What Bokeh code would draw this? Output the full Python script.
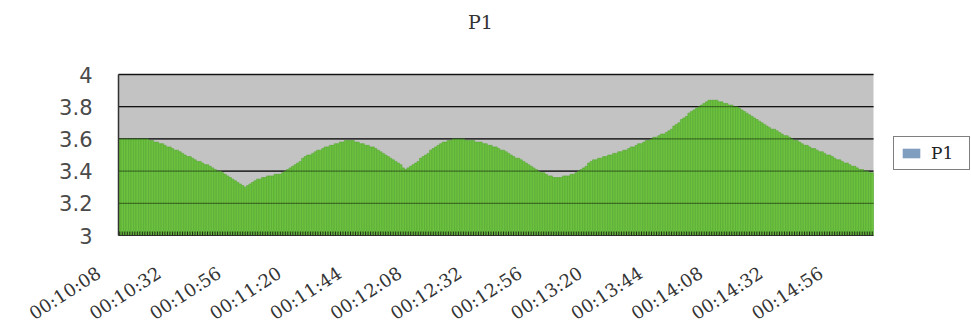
import math

from bokeh.plotting import figure
from bokeh.models import Range1d, ColumnDataSource, Legend, LegendItem, LabelSet, Label
from bokeh.core.properties import value
from bokeh.embed import file_html
from bokeh.resources import INLINE

# ---- data: one reading per second starting at 00:10:08 ----
series_name = "P1"

p1_values = [
    3.60, 3.60, 3.60, 3.60, 3.60, 3.60, 3.60, 3.60, 3.60, 3.60, 3.60, 3.60, 3.59, 3.59,
    3.58, 3.58, 3.57, 3.57, 3.56, 3.55, 3.55, 3.54, 3.53, 3.53, 3.52, 3.51,
    3.50, 3.49, 3.49, 3.48, 3.47, 3.46, 3.46, 3.45,
    3.44, 3.44, 3.43, 3.42, 3.41, 3.40, 3.40, 3.39,
    3.38, 3.37, 3.36, 3.35, 3.34, 3.33, 3.32, 3.31, 3.30,
    3.31, 3.32, 3.33, 3.34, 3.35, 3.35, 3.36,
    3.36, 3.37, 3.37, 3.37, 3.38, 3.38, 3.38, 3.39,
    3.40, 3.41, 3.42, 3.43, 3.44, 3.45, 3.46, 3.48,
    3.49, 3.50, 3.50, 3.51, 3.52, 3.53, 3.53, 3.54, 3.55, 3.55, 3.56,
    3.56, 3.57, 3.57, 3.58, 3.58, 3.59, 3.59, 3.59,
    3.59, 3.58, 3.58, 3.57, 3.57, 3.56, 3.56, 3.55, 3.55, 3.54, 3.53,
    3.52, 3.51, 3.50, 3.49, 3.48, 3.47, 3.46, 3.45, 3.44, 3.42, 3.41,
    3.42, 3.43, 3.44, 3.45, 3.46, 3.48,
    3.49, 3.50, 3.51, 3.53, 3.54, 3.55, 3.56, 3.57,
    3.58, 3.58, 3.59, 3.59, 3.60, 3.60, 3.60,
    3.60, 3.60, 3.59, 3.59, 3.59, 3.59, 3.58, 3.58, 3.58,
    3.57, 3.57, 3.56, 3.56, 3.55, 3.55, 3.54, 3.53, 3.53, 3.52, 3.51,
    3.50, 3.49, 3.48, 3.48, 3.47, 3.46, 3.45, 3.44, 3.43, 3.42,
    3.41, 3.40, 3.39, 3.39, 3.38, 3.37, 3.37, 3.36,
    3.36, 3.36, 3.36, 3.37, 3.37, 3.37, 3.38, 3.38,
    3.39, 3.40, 3.41, 3.42, 3.43, 3.45, 3.46,
    3.47, 3.47, 3.48, 3.48, 3.49, 3.49, 3.50, 3.50, 3.51, 3.51, 3.52, 3.52, 3.53, 3.53, 3.54, 3.55,
    3.55, 3.56, 3.57, 3.57, 3.58, 3.59, 3.59, 3.60, 3.61, 3.61, 3.62, 3.63, 3.63, 3.64, 3.65,
    3.66, 3.68, 3.69, 3.70, 3.72, 3.73, 3.74, 3.76,
    3.77, 3.78, 3.79, 3.80, 3.81, 3.82, 3.83, 3.84, 3.84,
    3.84, 3.84, 3.83, 3.83, 3.82, 3.82, 3.81, 3.81, 3.80, 3.80, 3.79,
    3.78, 3.77, 3.76, 3.75, 3.74, 3.73, 3.72, 3.71, 3.70, 3.69, 3.68, 3.67,
    3.66, 3.66, 3.65, 3.64, 3.63, 3.62, 3.62, 3.61, 3.60, 3.59, 3.59, 3.58, 3.57,
    3.56, 3.56, 3.55, 3.54, 3.54, 3.53, 3.52, 3.52, 3.51, 3.50, 3.50, 3.49, 3.48,
    3.47, 3.47, 3.46, 3.45, 3.45, 3.44, 3.43, 3.43, 3.42, 3.41, 3.41, 3.40,
    3.40, 3.39, 3.39,
]

# category labels shown every 24 samples
time_labels = ["00:10:08", "00:10:32", "00:10:56", "00:11:20", "00:11:44",
               "00:12:08", "00:12:32", "00:12:56", "00:13:20", "00:13:44",
               "00:14:08", "00:14:32", "00:14:56"]
label_every = 24

y_min, y_max = 3.0, 4.0
y_ticks = [3.0, 3.2, 3.4, 3.6, 3.8, 4.0]
y_tick_labels = ["3", "3.2", "3.4", "3.6", "3.8", "4"]

# ---- page geometry (pixels): plot area spans x 118..873, y 74..235 ----
W, H = 971, 327
AREA_L, AREA_R, AREA_T, AREA_B = 118, 873, 74, 235
n = len(p1_values)
px_x = (AREA_R - AREA_L) / n                 # pixels per sample
px_y = (AREA_B - AREA_T) / (y_max - y_min)   # pixels per unit


def dx(px):
    """page x pixel -> data x"""
    return -0.5 + (px - AREA_L) / px_x


def dy(py):
    """page y pixel -> data y"""
    return y_min + (AREA_B - py) / px_y


x_lo, x_hi = -0.5, n - 0.5

p = figure(width=W, height=H, output_backend="svg", toolbar_location=None,
           x_range=Range1d(dx(0), dx(W)), y_range=Range1d(dy(H), dy(0)),
           x_axis_type=None, y_axis_type=None, min_border=0,
           outline_line_color=None, background_fill_color="white",
           border_fill_color="white")
p.grid.visible = False

# plot area background
p.quad(left=[x_lo], right=[x_hi], bottom=[y_min], top=[y_max],
       fill_color="#c3c3c3", line_color=None)

# horizontal gridlines behind the bars
grid_y = y_ticks[1:]
p.segment(x0=[x_lo] * len(grid_y), x1=[x_hi] * len(grid_y), y0=grid_y, y1=grid_y,
          line_color="#1e1e1e", line_width=1.3)

# columns
src = ColumnDataSource(data=dict(x=list(range(n)), v=p1_values))
p.vbar(x="x", top="v", bottom=y_min, width=1.0, source=src,
       fill_color="#6cc23e", line_color="#58a834", line_width=0.6)

# gridlines showing through the columns
p.segment(x0=[x_lo] * len(grid_y), x1=[x_hi] * len(grid_y), y0=grid_y, y1=grid_y,
          line_color="black", line_alpha=0.4, line_width=1.2)

# axis lines
p.segment(x0=[x_lo], x1=[x_lo], y0=[y_min], y1=[y_max],
          line_color="#333333", line_width=1.5)
p.segment(x0=[x_lo], x1=[x_hi], y0=[y_min], y1=[y_min],
          line_color="#333333", line_width=1.2)

# a short inward tick at every sample
tick_len = 4 / px_y
p.segment(x0=list(range(n)), x1=list(range(n)), y0=[y_min] * n,
          y1=[y_min + tick_len] * n, line_color="#1f2a18", line_width=1)

# y tick labels
p.text(x=[x_lo] * len(y_ticks), y=y_ticks, text=y_tick_labels,
       x_offset=-26, text_align="right", text_baseline="middle",
       text_font=value("DejaVu Sans"), text_font_size="21px",
       text_color="#4a4a4a")

# rotated time labels
lab_src = ColumnDataSource(data=dict(
    x=[i * label_every for i in range(len(time_labels))],
    y=[dy(270.5)] * len(time_labels),
    text=time_labels))
p.add_layout(LabelSet(x="x", y="y", text="text", source=lab_src,
                      angle=math.radians(33), x_offset=-21,
                      text_align="right", text_baseline="middle",
                      text_font=value("DejaVu Serif"), text_font_size="18px",
                      text_color="#333333"))

# chart title
p.add_layout(Label(x=dx(480), y=dy(21), text=series_name, text_align="center",
                   text_baseline="middle", text_font="DejaVu Serif",
                   text_font_size="19px", text_color="#333333"))

# legend with its own swatch colour (zero-height proxy bar)
swatch = p.vbar(x=[0], top=[y_min], bottom=y_min, width=1,
                fill_color="#7f9ec0", line_color=None)
legend = Legend(items=[LegendItem(label=series_name, renderers=[swatch])],
                location=(893, H - 170), border_line_color="black",
                border_line_width=1.5, background_fill_color="white",
                label_text_font="DejaVu Serif", label_text_font_size="17px",
                label_text_color="#222222", label_height=15, label_width=32,
                glyph_width=22, glyph_height=12, padding=6, label_standoff=9,
                margin=0, spacing=0)
p.add_layout(legend)

open("out.html", "w").write(file_html(p, INLINE))
